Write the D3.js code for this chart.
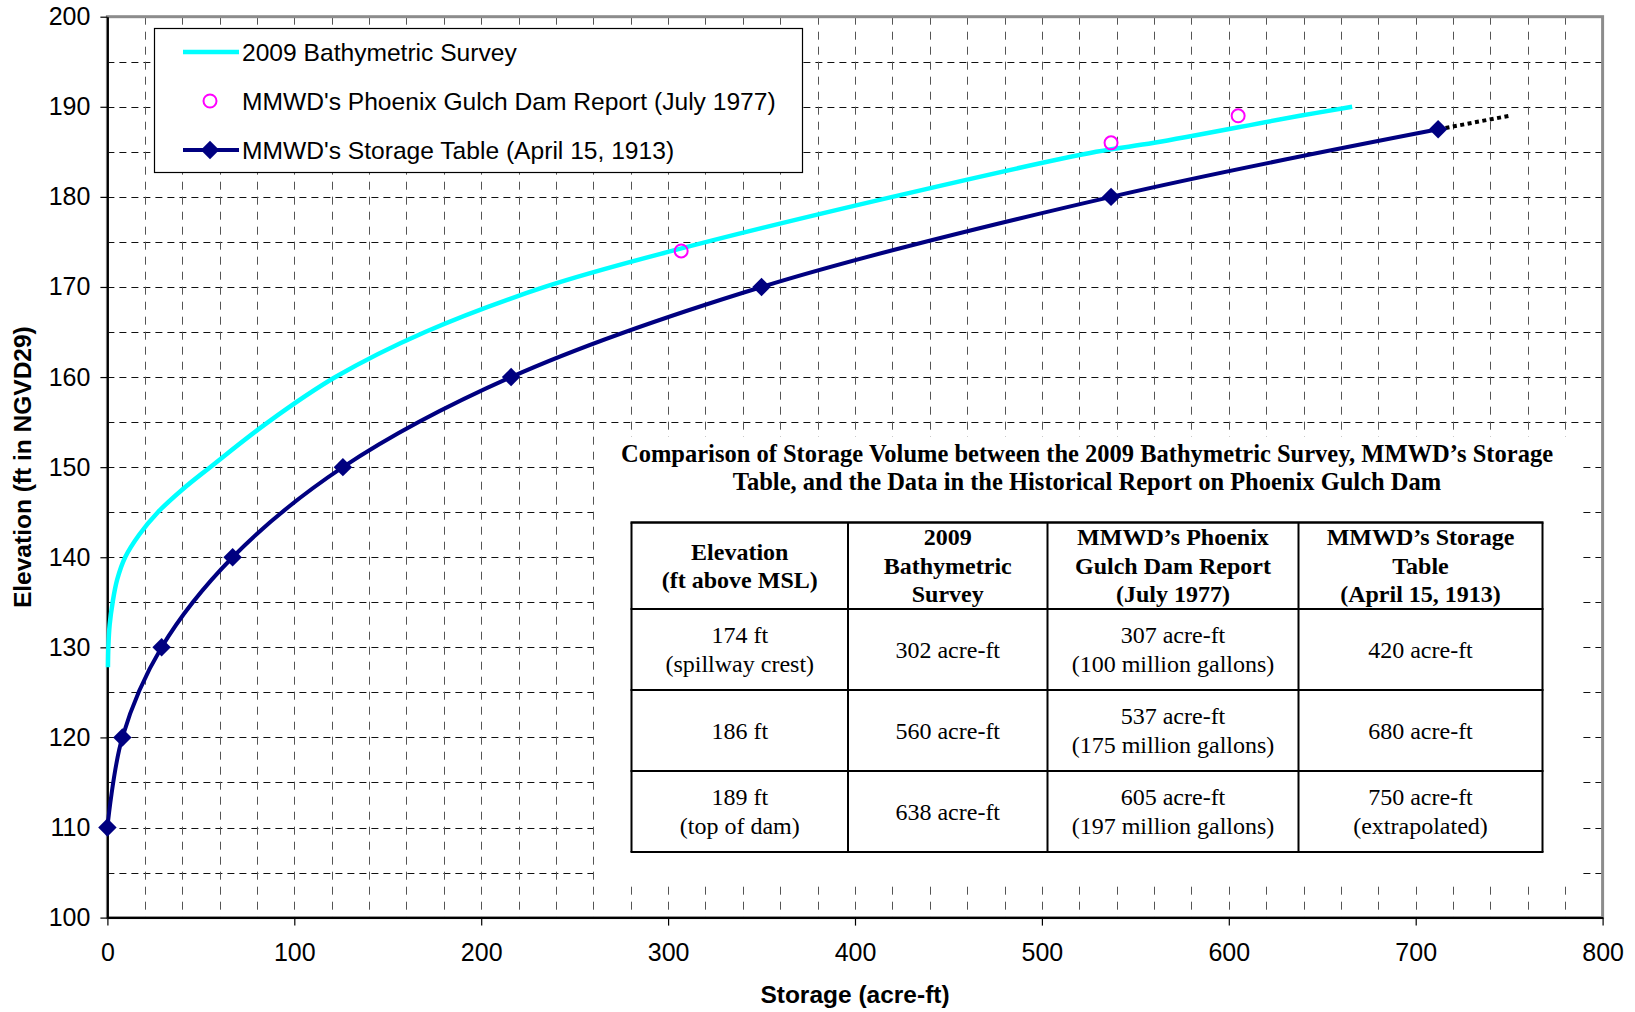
<!DOCTYPE html>
<html>
<head>
<meta charset="utf-8">
<script src="https://cdn.jsdelivr.net/npm/d3@7"></script>
<style>
  html, body { margin: 0; padding: 0; background: #fff; }
  svg { display: block; }
</style>
</head>
<body>
<svg id="chart" width="1635" height="1012"></svg>
<script>
// ---- Data ----------------------------------------------------------------
// 2009 bathymetric survey: storage (acre-ft) vs elevation (ft NGVD29)
const surveyStorage = [0.3, 0.5, 1.2, 2.8, 5.2, 9.5, 17, 27, 40, 55, 86, 122, 170, 234, 302, 420, 529, 560, 638, 666];
const surveyElev    = [127.8, 130, 132.5, 135, 137.5, 140, 142.5, 145, 147.5, 150, 155, 160, 165, 170, 174, 180, 185, 186, 189, 190];

// MMWD's Phoenix Gulch Dam Report (July 1977)
const reportStorage = [307, 537, 605];
const reportElev    = [174, 186, 189];

// MMWD's Storage Table (April 15, 1913)
const tableStorage = [0, 8, 29, 67, 126, 216, 350, 537, 712];
const tableElev    = [110, 120, 130, 140, 150, 160, 170, 180, 187.5];

// Extrapolation of the 1913 table up to the top of dam
const extrapStorage = [712, 750];
const extrapElev    = [187.5, 189];

// Axis ticks
const xTicks = [0, 100, 200, 300, 400, 500, 600, 700, 800];
const yTicks = [100, 110, 120, 130, 140, 150, 160, 170, 180, 190, 200];

// Legend labels
const legendLabels = [
  "2009 Bathymetric Survey",
  "MMWD's Phoenix Gulch Dam Report (July 1977)",
  "MMWD's Storage Table (April 15, 1913)"
];

// Comparison table
const tableTitle = [
  "Comparison of Storage Volume between the 2009 Bathymetric Survey, MMWD\u2019s Storage",
  "Table, and the Data in the Historical Report on Phoenix Gulch Dam"
];
const tableHeader = [
  ["Elevation", "(ft above MSL)"],
  ["2009", "Bathymetric", "Survey"],
  ["MMWD\u2019s Phoenix", "Gulch Dam Report", "(July 1977)"],
  ["MMWD\u2019s Storage", "Table", "(April 15, 1913)"]
];
const tableRows = [
  [["174 ft", "(spillway crest)"], ["302 acre-ft"], ["307 acre-ft", "(100 million gallons)"], ["420 acre-ft"]],
  [["186 ft"], ["560 acre-ft"], ["537 acre-ft", "(175 million gallons)"], ["680 acre-ft"]],
  [["189 ft", "(top of dam)"], ["638 acre-ft"], ["605 acre-ft", "(197 million gallons)"], ["750 acre-ft", "(extrapolated)"]]
];

// ---- Layout --------------------------------------------------------------
const SANS = "'Liberation Sans', Arial, Helvetica, sans-serif";
const SERIF = "'Liberation Serif', 'Times New Roman', Times, serif";
const plot = { left: 107.4, right: 1602.6, top: 16.7, bottom: 917.6 };

const svg = d3.select("#chart");
const x = d3.scaleLinear().domain([0, 800]).range([plot.left, plot.right]);
const y = d3.scaleLinear().domain([100, 200]).range([plot.bottom, plot.top]);

// ---- Grid ----------------------------------------------------------------
const grid = svg.append("g");
grid.selectAll("line.h")
  .data(d3.range(105, 200, 5))
  .join("line")
  .attr("x1", plot.left).attr("x2", plot.right)
  .attr("y1", d => Math.round(y(d)) + 0.5).attr("y2", d => Math.round(y(d)) + 0.5)
  .attr("stroke", "#111").attr("stroke-width", 1)
  .attr("stroke-dasharray", "7,5");
grid.selectAll("line.v")
  .data(d3.range(20, 800, 20))
  .join("line")
  .attr("x1", d => Math.round(x(d)) + 0.5).attr("x2", d => Math.round(x(d)) + 0.5)
  .attr("y1", plot.top).attr("y2", plot.bottom)
  .attr("stroke", "#555").attr("stroke-width", 1)
  .attr("stroke-dasharray", "8,7");

// Plot area frame
svg.append("rect")
  .attr("x", plot.left).attr("y", plot.top)
  .attr("width", plot.right - plot.left).attr("height", plot.bottom - plot.top)
  .attr("fill", "none").attr("stroke", "#8c8c8c").attr("stroke-width", 3);

// ---- Axes ----------------------------------------------------------------
const yAxis = svg.append("g")
  .attr("transform", `translate(${plot.left},0)`)
  .call(d3.axisLeft(y).tickValues(yTicks).tickSize(7).tickPadding(10).tickSizeOuter(0));
yAxis.selectAll("text")
  .attr("font-family", SANS).attr("font-size", 25).attr("fill", "#000");

const xAxis = svg.append("g")
  .attr("transform", `translate(0,${plot.bottom})`)
  .call(d3.axisBottom(x).tickValues(xTicks).tickSize(8).tickPadding(18).tickSizeOuter(0));
xAxis.selectAll("text")
  .attr("font-family", SANS).attr("font-size", 25).attr("fill", "#000");
[yAxis, xAxis].forEach(a => {
  a.select(".domain").attr("stroke", "#000").attr("stroke-width", 2);
  a.selectAll(".tick line").attr("stroke", "#000").attr("stroke-width", 1.2);
});

// Axis titles
svg.append("text")
  .attr("x", x(400)).attr("y", 1003)
  .attr("text-anchor", "middle")
  .attr("font-family", SANS).attr("font-size", 24.5).attr("font-weight", "bold")
  .text("Storage (acre-ft)");
svg.append("text")
  .attr("transform", `translate(31,${(plot.top + plot.bottom) / 2}) rotate(-90)`)
  .attr("text-anchor", "middle")
  .attr("font-family", SANS).attr("font-size", 24.5).attr("font-weight", "bold")
  .text("Elevation (ft in NGVD29)");

// ---- Series --------------------------------------------------------------
const line = d3.line().x(d => x(d[0])).y(d => y(d[1])).curve(d3.curveCatmullRom.alpha(0.5));
const zip = (a, b) => a.map((v, i) => [v, b[i]]);

svg.append("path")
  .datum(zip(surveyStorage, surveyElev))
  .attr("d", line)
  .attr("fill", "none").attr("stroke", "#00ffff").attr("stroke-width", 4.5)
  .attr("stroke-linecap", "butt");

svg.append("path")
  .datum(zip(tableStorage, tableElev))
  .attr("d", line)
  .attr("fill", "none").attr("stroke", "#000080").attr("stroke-width", 4);

svg.append("path")
  .datum(zip(extrapStorage, extrapElev))
  .attr("d", d3.line().x(d => x(d[0])).y(d => y(d[1])))
  .attr("fill", "none").attr("stroke", "#000").attr("stroke-width", 4)
  .attr("stroke-dasharray", "4,3.5");

const diamond = d3.symbol().type(d3.symbolSquare).size(170);
svg.append("g").selectAll("path")
  .data(zip(tableStorage, tableElev))
  .join("path")
  .attr("d", diamond)
  .attr("transform", d => `translate(${x(d[0])},${y(d[1])}) rotate(45)`)
  .attr("fill", "#000080");

svg.append("g").selectAll("circle")
  .data(zip(reportStorage, reportElev))
  .join("circle")
  .attr("cx", d => x(d[0])).attr("cy", d => y(d[1]))
  .attr("r", 6.5)
  .attr("fill", "none").attr("stroke", "#ff00ff").attr("stroke-width", 2);

// ---- Legend --------------------------------------------------------------
const legend = svg.append("g");
legend.append("rect")
  .attr("x", 154.5).attr("y", 28.5).attr("width", 648).attr("height", 144)
  .attr("fill", "#fff").attr("stroke", "#000").attr("stroke-width", 1.2);
const rowY = [52, 101, 150];
legend.append("line")
  .attr("x1", 183).attr("x2", 239).attr("y1", rowY[0]).attr("y2", rowY[0])
  .attr("stroke", "#00ffff").attr("stroke-width", 4.5);
legend.append("circle")
  .attr("cx", 210).attr("cy", rowY[1]).attr("r", 6.5)
  .attr("fill", "none").attr("stroke", "#ff00ff").attr("stroke-width", 2);
legend.append("line")
  .attr("x1", 183).attr("x2", 239).attr("y1", rowY[2]).attr("y2", rowY[2])
  .attr("stroke", "#000080").attr("stroke-width", 4);
legend.append("path")
  .attr("d", diamond)
  .attr("transform", `translate(210,${rowY[2]}) rotate(45)`)
  .attr("fill", "#000080");
legend.selectAll("text")
  .data(legendLabels)
  .join("text")
  .attr("x", 242).attr("y", (d, i) => rowY[i] + 8.5)
  .attr("font-family", SANS).attr("font-size", 24.6).attr("fill", "#000")
  .text(d => d);

// ---- Comparison table ----------------------------------------------------
const panel = svg.append("g");
panel.append("rect")
  .attr("x", 594).attr("y", 437).attr("width", 986).attr("height", 445)
  .attr("fill", "#fff");

const colX = [631.5, 848, 1047.5, 1298.5, 1542.5];
const rowLines = [522.5, 609, 690, 771, 852];
const centerX = (colX[0] + colX[4]) / 2;

panel.selectAll("text.title")
  .data(tableTitle)
  .join("text")
  .attr("x", centerX).attr("y", (d, i) => 462 + i * 27.5)
  .attr("text-anchor", "middle")
  .attr("font-family", SERIF).attr("font-size", 24.5).attr("font-weight", "bold")
  .text(d => d);

function cellText(lines, cx, cy, bold) {
  const lh = 28.3;
  const t = panel.append("text")
    .attr("text-anchor", "middle")
    .attr("font-family", SERIF).attr("font-size", 24)
    .attr("font-weight", bold ? "bold" : "normal");
  lines.forEach((s, i) => {
    t.append("tspan")
      .attr("x", cx)
      .attr("y", cy + (i - (lines.length - 1) / 2) * lh + 8)
      .text(s);
  });
}

tableHeader.forEach((lines, c) => {
  cellText(lines, (colX[c] + colX[c + 1]) / 2, (rowLines[0] + rowLines[1]) / 2, true);
});
tableRows.forEach((row, r) => {
  row.forEach((lines, c) => {
    cellText(lines, (colX[c] + colX[c + 1]) / 2, (rowLines[r + 1] + rowLines[r + 2]) / 2, false);
  });
});

// Grid lines of the table
rowLines.forEach((yy, i) => {
  panel.append("line")
    .attr("x1", colX[0] - 1).attr("x2", colX[4] + 1)
    .attr("y1", yy).attr("y2", yy)
    .attr("stroke", "#000").attr("stroke-width", i === 0 ? 2.5 : 2);
});
colX.forEach(xx => {
  panel.append("line")
    .attr("x1", xx).attr("x2", xx)
    .attr("y1", rowLines[0]).attr("y2", rowLines[4])
    .attr("stroke", "#000").attr("stroke-width", 2);
});
</script>
</body>
</html>
